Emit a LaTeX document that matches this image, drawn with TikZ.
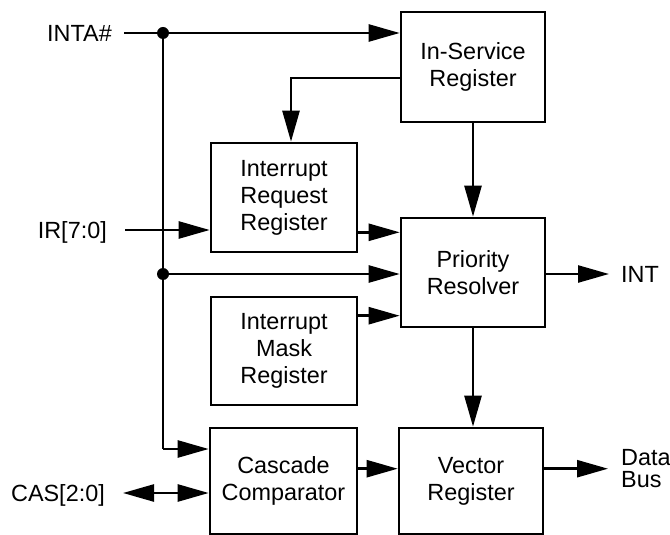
\documentclass[tikz,border=0pt]{standalone}
\usepackage{fontspec}
\setmainfont{Liberation Sans}
\usetikzlibrary{arrows.meta,calc}
\begin{document}
\begin{tikzpicture}[x=1bp,y=-1bp,
  txt/.style={font=\fontsize{23.5}{27}\selectfont},
  box/.style={draw, line width=2.6bp, align=center, inner sep=0pt, txt},
  conn/.style={line width=2.5bp},
  tip/.style={Triangle[length=31bp,width=17bp]},
  arr/.style={conn, -{Triangle[length=31bp,width=17bp]}},
  dblarr/.style={conn, {Triangle[length=31bp,width=17bp]}-{Triangle[length=31bp,width=17bp]}},
  lbl/.style={inner sep=0pt, txt},
  jdot/.style={circle, fill, inner sep=0pt, minimum size=12bp}]
\useasboundingbox (0,0) rectangle (670,535);

% blocks
\node[box, minimum width=144bp, minimum height=110bp] (isr) at (473,67) {In-Service\\Register};
\node[box, minimum width=146bp, minimum height=109bp] (irr) at (284,197.5) {Interrupt\\Request\\Register};
\node[box, minimum width=144bp, minimum height=109bp] (pr) at (473,272.5) {Priority\\Resolver};
\node[box, minimum width=146bp, minimum height=108bp] (imr) at (284,351) {Interrupt\\Mask\\Register};
\node[box, minimum width=147bp, minimum height=106bp] (cc) at (283.5,481) {Cascade\\Comparator};
\node[box, minimum width=144bp, minimum height=106bp] (vr) at (471,481) {Vector\\Register};

% external labels
\node[lbl, anchor=base east] (inta) at (112,41.4) {INTA\#};
\node[lbl, anchor=base east] (ir) at (107,238.4) {IR[7:0]};
\node[lbl, anchor=base east] (cas) at (105,501.4) {CAS[2:0]};
\node[lbl, anchor=base west] (int) at (621,282.4) {INT};
\node[lbl, anchor=west, align=left, font=\fontsize{23.5}{22}\selectfont] (db) at (621,469) {Data\\Bus};

% coordinates
\coordinate (intaS) at (124,33);
\node[jdot] (j1) at (163,33) {};
\node[jdot] (j2) at (163,274) {};
\coordinate (jc) at (163,449);
\coordinate (irS) at (125,230);
\coordinate (casS) at (123,493);
\coordinate (intT) at (609,0);
\coordinate (dbT) at (608,0);
\coordinate (t1) at ($(irr.south east)+(0,-21)$);
\coordinate (t2) at ($(imr.north east)+(0,20)$);
\coordinate (t3) at ($(cc.north east)+(0,42)$);
\coordinate (t4) at ($(isr.west)+(0,11)$);

% connectors
\draw[arr] (intaS) -- (intaS -| isr.west);
\draw[conn] (j1.center) -- (jc);
\draw[arr] (jc) -- (jc -| cc.west);
\draw[arr] (j2.center) -- (j2.center -| pr.west);
\draw[arr] (t4) -| ($(irr.north)+(7,0)$);
\draw[arr] (isr.south) -- (pr.north);
\draw[arr] (irS) -- (irS -| irr.west);
\draw[arr] (t1) -- (t1 -| pr.west);
\draw[arr] (t2) -- (t2 -| pr.west);
\draw[arr] (j2.center -| pr.east) -- (j2.center -| intT);
\draw[arr] (pr.south) -- (pr.south |- vr.north);
\draw[arr] (t3) -- (t3 -| vr.west);
\draw[arr] (t3 -| vr.east) -- (t3 -| dbT);
\draw[dblarr] (casS) -- (casS -| cc.west);
\end{tikzpicture}
\end{document}
